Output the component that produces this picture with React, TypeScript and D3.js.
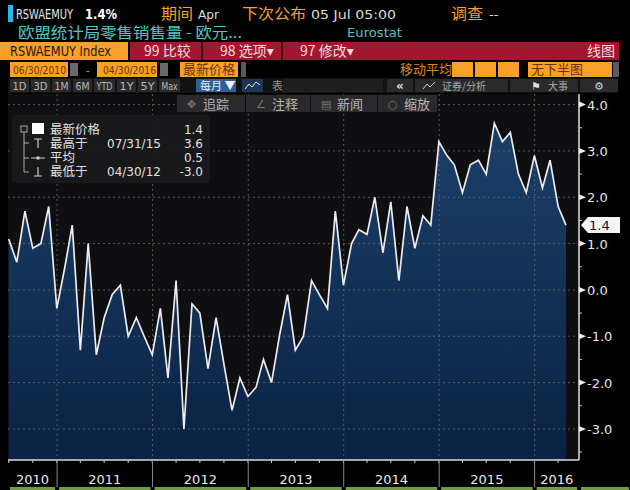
import * as d3 from "d3";
import React from "react";

// monthly values, yoy %, first month = June 2010
const values2010 = [1.1, 0.6, 1.7, 0.9, 1.0, 1.8, -0.4];
const values2011 = [0.5, 1.4, -1.3, 1.0, -1.4, -0.6, -0.1, 0.1, -1.0, -0.6, -1.0, -1.4];
const values2012 = [-0.4, -1.9, 0.2, -3.0, -0.3, -0.5, -1.7, -0.6, -1.6, -2.6, -1.9, -2.3];
const values2013 = [-2.1, -1.5, -2.0, -1.0, -0.1, -1.3, -1.0, 0.2, -0.1, -0.4, 1.7, 0.1];
const values2014 = [1.0, 1.3, 1.2, 2.0, 0.8, 1.9, 0.2, 1.8, 0.9, 1.6, 1.4, 3.2];
const values2015 = [2.9, 2.7, 2.1, 2.7, 2.8, 2.5, 3.6, 3.2, 3.4, 2.5, 2.1, 2.9];
const values2016 = [2.2, 2.8, 1.8, 1.4];

const yearLabels = ["2010", "2011", "2012", "2013", "2014", "2015", "2016"];
const yTicks = [4, 3, 2, 1, 0, -1, -2, -3];
const rangeButtons = ["1D", "3D", "1M", "6M", "YTD", "1Y", "5Y", "Max"];

const legendRows = [
  { label: "最新价格", date: "", value: "1.4" },
  { label: "最高于", date: "07/31/15", value: "3.6" },
  { label: "平均", date: "", value: "0.5" },
  { label: "最低于", date: "04/30/12", value: "-3.0" },
];

const CJK = "'Noto Sans CJK SC', 'DejaVu Sans', sans-serif";
const SANS = "'DejaVu Sans', sans-serif";
const ORANGE = "#f7a02a";
const RED = "#a3162f";

// squeezed text, the terminal uses a narrow font
function Narrow(props: { x: number; y: number; w: number; size: number; fill: string; bold?: boolean; children: string }) {
  return (
    <text x={props.x} y={props.y} fill={props.fill} fontSize={props.size} fontFamily={SANS}
      fontWeight={props.bold ? "bold" : "normal"} textLength={props.w} lengthAdjust="spacingAndGlyphs">
      {props.children}
    </text>
  );
}

export default function App() {
  const allValues = [
    ...values2010, ...values2011, ...values2012, ...values2013,
    ...values2014, ...values2015, ...values2016,
  ];
  // month-end dates
  const data = allValues.map((v, i) => ({ date: new Date(2010, 6 + i, 0), value: v }));

  const plotTop = 94;
  const plotBottom = 460;
  const axisX = 579;

  const x = d3.scaleTime()
    .domain([data[0].date, data[data.length - 1].date])
    .range([8.7, 566]);
  const y = d3.scaleLinear().domain([-3, 4]).range([428.9, 104.6]);

  const area = d3.area<{ date: Date; value: number }>()
    .x(d => x(d.date))
    .y0(plotBottom)
    .y1(d => y(d.value));
  const line = d3.line<{ date: Date; value: number }>()
    .x(d => x(d.date))
    .y(d => y(d.value));

  const yearStarts = yearLabels.slice(1).map(yr => new Date(+yr, 0, 1));
  const sepX = yearStarts.map(d => x(d));
  const bounds = [8, ...sepX, axisX];

  const quarterEnds = data.filter(d => d.date.getMonth() % 3 === 2).map(d => d.date);
  const minorTicks = d3.range(-3.5, 4, 1);
  const last = data[data.length - 1];

  // header buttons
  let bx = 10;
  const btns = rangeButtons.map(b => {
    const w = b.length > 2 ? 21 : 19;
    const r = { label: b, x: bx, w };
    bx += w + 2;
    return r;
  });

  return (
    <svg width={630} height={490} style={{ position: "absolute", left: 0, top: 0, background: "#000" }}>
      <defs>
        <linearGradient id="fillGrad" gradientUnits="userSpaceOnUse" x1="0" y1={plotTop} x2="0" y2={plotBottom}>
          <stop offset="0" stopColor="#1d426c" />
          <stop offset="1" stopColor="#0a2243" />
        </linearGradient>
      </defs>
      <rect width={630} height={490} fill="#000" />

      {/* row 1 */}
      <rect x={8} y={5} width={5} height={17} fill="#27b6e8" />
      <Narrow x={16} y={19} w={57} size={14} fill="#e6e6e6">RSWAEMUY</Narrow>
      <Narrow x={85} y={19} w={32} size={14} fill="#fff" bold>1.4%</Narrow>
      <text x={161} y={19} fill={ORANGE} fontSize={15} fontFamily={CJK} textLength={32} lengthAdjust="spacingAndGlyphs">期间</text>
      <Narrow x={198} y={19} w={21} size={13} fill="#ddd">Apr</Narrow>
      <text x={242} y={19} fill={ORANGE} fontSize={15} fontFamily={CJK} textLength={64} lengthAdjust="spacingAndGlyphs">下次公布</text>
      <Narrow x={311} y={19} w={85} size={13} fill="#ddd">05 Jul 05:00</Narrow>
      <text x={451} y={19} fill={ORANGE} fontSize={15} fontFamily={CJK} textLength={32} lengthAdjust="spacingAndGlyphs">调查</text>
      <text x={489} y={19} fill="#ddd" fontSize={13} fontFamily={SANS}>--</text>

      {/* row 2 */}
      <text x={18} y={38} fill="#54c6c0" fontSize={15} fontFamily={CJK} textLength={224} lengthAdjust="spacingAndGlyphs">欧盟统计局零售销售量 - 欧元...</text>
      <Narrow x={347} y={37} w={55} size={13} fill="#54c6c0">Eurostat</Narrow>

      {/* row 3 */}
      <rect x={0} y={42} width={128} height={18} fill={ORANGE} />
      <Narrow x={10} y={56} w={101} size={14} fill="#2a1400">RSWAEMUY Index</Narrow>
      <rect x={130} y={42} width={489} height={18} fill={RED} />
      <rect x={201} y={42} width={2} height={18} fill="#000" opacity={0.6} />
      <rect x={281} y={42} width={2} height={18} fill="#000" opacity={0.6} />
      <text x={144} y={56} fill="#f4dede" fontSize={14} fontFamily={CJK}>99 比较</text>
      <text x={220} y={56} fill="#f4dede" fontSize={14} fontFamily={CJK}>98 选项▾</text>
      <text x={300} y={56} fill="#f4dede" fontSize={14} fontFamily={CJK}>97 修改▾</text>
      <text x={615} y={56} fill="#f4dede" fontSize={14} fontFamily={CJK} textAnchor="end">线图</text>

      {/* row 4 */}
      <rect x={10} y={62} width={58} height={15} fill={ORANGE} />
      <Narrow x={13} y={74} w={53} size={11} fill="#6b3300">06/30/2010</Narrow>
      <rect x={70} y={63} width={8} height={13} fill="#6a6a6a" />
      <text x={86} y={74} fill="#bbb" fontSize={11}>-</text>
      <rect x={97} y={62} width={60} height={15} fill={ORANGE} />
      <Narrow x={103} y={74} w={53} size={11} fill="#6b3300">04/30/2016</Narrow>
      <rect x={160} y={63} width={8} height={13} fill="#6a6a6a" />
      <rect x={180} y={62} width={58} height={15} fill={ORANGE} />
      <text x={183} y={74} fill="#6b3300" fontSize={13} fontFamily={CJK}>最新价格</text>
      <rect x={241} y={62} width={5} height={15} fill="#5a5a5a" />
      <text x={400} y={74} fill="#d98a1c" fontSize={13} fontFamily={CJK}>移动平均</text>
      {[452, 475, 498].map(bx0 => (
        <rect key={bx0} x={bx0} y={62} width={21} height={15} fill={ORANGE} />
      ))}
      <rect x={528} y={62} width={84} height={15} fill={ORANGE} />
      <text x={531} y={74} fill="#6b3300" fontSize={13} fontFamily={CJK}>无下半图</text>
      <rect x={613} y={62} width={6} height={15} fill="#5a5a5a" />

      {/* row 5 */}
      <rect x={8} y={78} width={610} height={15} fill="#121212" />
      {btns.map(b => (
        <g key={b.label}>
          <rect x={b.x} y={79} width={b.w} height={13} fill="#2a2a2a" />
          <text x={b.x + b.w / 2} y={90} fill="#b8b8b8" fontSize={10.5} fontFamily={SANS} textAnchor="middle"
            textLength={b.w - 5} lengthAdjust="spacingAndGlyphs">{b.label}</text>
        </g>
      ))}
      <rect x={196} y={79} width={40} height={13} fill="#2f5f96" />
      <text x={200} y={90} fill="#e8f0ff" fontSize={11} fontFamily={CJK}>每月 ▼</text>
      <rect x={242} y={79} width={21} height={13} fill="#1d3654" />
      <polyline points="245,89 249,84 252,87 256,82 260,85" fill="none" stroke="#e6e6e6" strokeWidth={1} />
      <text x={272} y={90} fill="#999" fontSize={11} fontFamily={CJK}>表</text>
      <rect x={283} y={79} width={100} height={13} fill="#1e1e1e" />
      <rect x={387} y={79} width={26} height={13} fill="#2a2a2a" />
      <text x={400} y={90} fill="#ddd" fontSize={12} fontWeight="bold" textAnchor="middle" fontFamily={SANS}>«</text>
      <rect x={415} y={79} width={93} height={13} fill="#2a2a2a" />
      <polyline points="423,89 427,84 430,87 435,82" fill="none" stroke="#ccc" strokeWidth={1} />
      <text x={442} y={90} fill="#aaa" fontSize={10} fontFamily={CJK}>证券/分析</text>
      <rect x={510} y={79} width={68} height={13} fill="#2a2a2a" />
      <text x={531} y={90} fill="#ddd" fontSize={11} fontFamily={SANS}>⚑</text>
      <text x={548} y={90} fill="#aaa" fontSize={10} fontFamily={CJK}>大事</text>
      <rect x={580} y={79} width={38} height={13} fill="#2a2a2a" />
      <text x={599} y={90} fill="#ccc" fontSize={11} textAnchor="middle" fontFamily={SANS}>⚙</text>

      {/* plot background */}
      <rect x={8} y={plotTop} width={axisX - 8} height={plotBottom - plotTop} fill="#0f0f12" />

      {/* area and line */}
      <path d={area(data) ?? ""} fill="url(#fillGrad)" />
      {yTicks.map(t => (
        <line key={t} x1={8} x2={axisX - 2} y1={y(t)} y2={y(t)} stroke="#6a6a6a" strokeWidth={1} strokeDasharray="2,3" opacity={0.8} />
      ))}
      {sepX.map((sx, i) => (
        <line key={i} x1={sx} x2={sx} y1={plotTop} y2={plotBottom} stroke="#6a6a6a" strokeWidth={1} strokeDasharray="2,3" opacity={0.8} />
      ))}
      <path d={line(data) ?? ""} fill="none" stroke="#ececf0" strokeWidth={1.7} strokeLinejoin="miter" />

      {/* plot toolbar */}
      {[
        { x0: 177, w: 68, icon: "✥", label: "追踪" },
        { x0: 246, w: 64, icon: "∠", label: "注释" },
        { x0: 311, w: 66, icon: "▤", label: "新闻" },
        { x0: 378, w: 59, icon: "○", label: "缩放" },
      ].map(b => (
        <g key={b.label}>
          <rect x={b.x0} y={95} width={b.w} height={17} fill="#2a2a2c" />
          <text x={b.x0 + 10} y={108} fill="#777" fontSize={11} fontFamily={SANS}>{b.icon}</text>
          <text x={b.x0 + 26} y={109} fill="#b4b4b4" fontSize={13} fontFamily={CJK}>{b.label}</text>
        </g>
      ))}

      {/* legend */}
      <rect x={12} y={115} width={198} height={68} rx={3} fill="#19191c" opacity={0.95} />
      <rect x={21} y={126} width={6} height={6} fill="none" stroke="#aaa" strokeWidth={1} />
      <rect x={32} y={123} width={12} height={11} fill="#fff" />
      <path d="M24,132 V172 M24,143 H29 M24,158 H29 M24,172 H29" stroke="#aaa" strokeWidth={1} fill="none" />
      <path d="M34,139 H42 M38,139 V148" stroke="#ccc" strokeWidth={1.2} fill="none" />
      <path d="M31,158 H45" stroke="#ccc" strokeWidth={1} fill="none" />
      <circle cx={38} cy={158} r={1.8} fill="#ccc" />
      <path d="M38,167 V176 M34,176 H42" stroke="#ccc" strokeWidth={1.2} fill="none" />
      {legendRows.map((r, i) => (
        <g key={r.label}>
          <text x={50} y={133.5 + i * 14.3} fill="#e0e0e0" fontSize={12.5} fontFamily={CJK}>{r.label}</text>
          {r.date && (
            <text x={107} y={133.5 + i * 14.3} fill="#e0e0e0" fontSize={12} fontFamily={SANS}>{r.date}</text>
          )}
          <text x={203} y={133.5 + i * 14.3} fill="#e0e0e0" fontSize={12} fontFamily={SANS} textAnchor="end">{r.value}</text>
        </g>
      ))}

      {/* y axis */}
      <line x1={axisX} x2={axisX} y1={plotTop} y2={plotBottom} stroke="#e0e0e0" strokeWidth={1.5} />
      {minorTicks.map(t => (
        <line key={t} x1={axisX} x2={axisX + 3} y1={y(t)} y2={y(t)} stroke="#ccc" strokeWidth={1} />
      ))}
      {yTicks.map(t => (
        <g key={t}>
          <polygon points={`${axisX},${y(t) - 3} ${axisX + 7},${y(t)} ${axisX},${y(t) + 3}`} fill="#eee" />
          <text x={587} y={y(t) + 5} fill="#e4e4e4" fontSize={13} fontFamily={SANS}>{d3.format(".1f")(t).replace("−", "-")}</text>
        </g>
      ))}
      {/* last value tag */}
      <polygon
        points={`${axisX + 2},${y(last.value)} ${axisX + 9},${y(last.value) - 8} ${620},${y(last.value) - 8} ${620},${y(last.value) + 8} ${axisX + 9},${y(last.value) + 8}`}
        fill="#f4f4f4"
      />
      <text x={589} y={y(last.value) + 5} fill="#111" fontSize={13} fontFamily={SANS}>{last.value.toFixed(1)}</text>

      {/* x axis */}
      <line x1={8} x2={axisX} y1={plotBottom} y2={plotBottom} stroke="#dcdcdc" strokeWidth={1.5} />
      {quarterEnds.map((d, i) => (
        <line key={i} x1={x(d)} x2={x(d)} y1={plotBottom} y2={plotBottom + 3} stroke="#ccc" strokeWidth={1} />
      ))}
      {sepX.map((sx, i) => (
        <line key={i} x1={sx} x2={sx} y1={plotBottom} y2={487} stroke="#8a8a8a" strokeWidth={1} />
      ))}
      {yearLabels.map((yl, i) => (
        <text key={yl} x={(bounds[i] + bounds[i + 1]) / 2} y={484} fill="#eaeaea" fontSize={13} fontFamily={SANS} textAnchor="middle">{yl}</text>
      ))}
      {bounds.slice(0, -1).map((b, i) => (
        <rect key={i} x={b + 2} y={487} width={bounds[i + 1] - b - 4} height={3} fill="#6f9e3a" />
      ))}
      <rect x={axisX + 2} y={487} width={48} height={3} fill="#6f9e3a" />
    </svg>
  );
}
